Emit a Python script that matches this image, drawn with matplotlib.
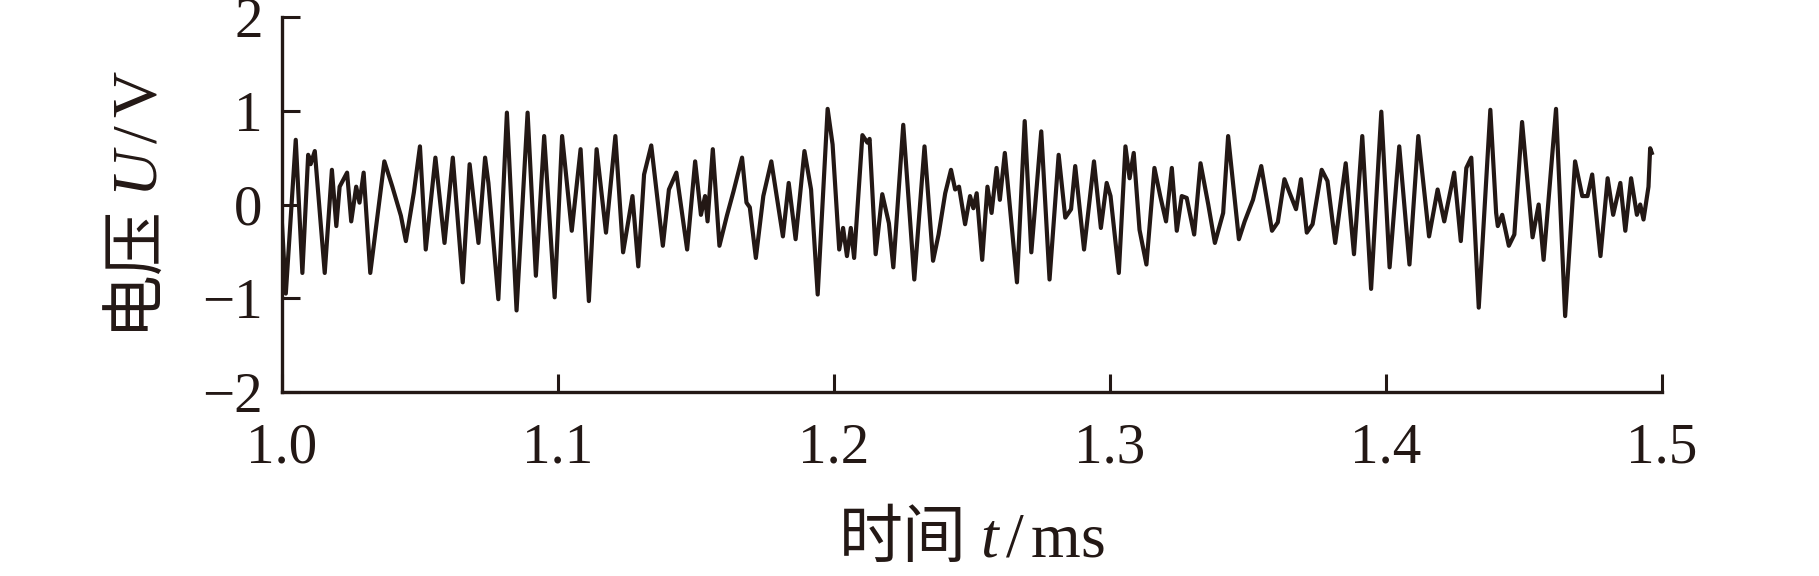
import matplotlib
matplotlib.use("Agg")
import matplotlib.pyplot as plt
import numpy as np

plt.rcParams['font.family'] = ['Liberation Serif', 'Noto Sans CJK SC']
plt.rcParams['mathtext.fontset'] = 'custom'
plt.rcParams['mathtext.it'] = 'Liberation Serif:italic'
plt.rcParams['mathtext.rm'] = 'Liberation Serif'

# 时间 (ms) 与电压 (V)，按图读取的极值点
t_ms = [1.0000, 1.0014, 1.0050, 1.0074, 1.0095, 1.0104, 1.0119, 1.0155, 1.0181, 1.0197,
        1.0209, 1.0236, 1.0251, 1.0269, 1.0281, 1.0296, 1.0320, 1.0371, 1.0400, 1.0431,
        1.0449, 1.0478, 1.0500, 1.0521, 1.0556, 1.0589, 1.0619, 1.0655, 1.0680, 1.0712,
        1.0736, 1.0748, 1.0784, 1.0815, 1.0850, 1.0890, 1.0920, 1.0950, 1.0988, 1.1015,
        1.1050, 1.1082, 1.1112, 1.1140, 1.1174, 1.1208, 1.1236, 1.1270, 1.1291, 1.1312,
        1.1338, 1.1380, 1.1402, 1.1429, 1.1468, 1.1497, 1.1518, 1.1533, 1.1542, 1.1561,
        1.1585, 1.1612, 1.1636, 1.1667, 1.1683, 1.1695, 1.1717, 1.1744, 1.1773, 1.1815,
        1.1836, 1.1861, 1.1893, 1.1917, 1.1941, 1.1977, 1.1995, 1.2019, 1.2033, 1.2047,
        1.2061, 1.2073, 1.2103, 1.2121, 1.2129, 1.2151, 1.2175, 1.2199, 1.2215, 1.2251,
        1.2291, 1.2328, 1.2359, 1.2379, 1.2403, 1.2424, 1.2439, 1.2453, 1.2475, 1.2493,
        1.2505, 1.2517, 1.2537, 1.2556, 1.2571, 1.2589, 1.2601, 1.2619, 1.2663, 1.2691,
        1.2715, 1.2751, 1.2781, 1.2814, 1.2838, 1.2859, 1.2874, 1.2906, 1.2942, 1.2967,
        1.2988, 1.3002, 1.3032, 1.3056, 1.3071, 1.3086, 1.3107, 1.3132, 1.3161, 1.3182,
        1.3203, 1.3224, 1.3242, 1.3260, 1.3278, 1.3305, 1.3328, 1.3356, 1.3380, 1.3410,
        1.3428, 1.3467, 1.3488, 1.3518, 1.3548, 1.3587, 1.3608, 1.3632, 1.3650, 1.3674,
        1.3692, 1.3713, 1.3734, 1.3767, 1.3788, 1.3816, 1.3854, 1.3884, 1.3914, 1.3946,
        1.3983, 1.4013, 1.4048, 1.4085, 1.4117, 1.4156, 1.4187, 1.4211, 1.4247, 1.4271,
        1.4291, 1.4309, 1.4336, 1.4378, 1.4399, 1.4405, 1.4421, 1.4445, 1.4465, 1.4493,
        1.4531, 1.4553, 1.4571, 1.4616, 1.4649, 1.4685, 1.4711, 1.4730, 1.4747, 1.4777,
        1.4803, 1.4823, 1.4849, 1.4867, 1.4888, 1.4909, 1.4921, 1.4933, 1.4951, 1.4957,
        1.4963]
u_v = [-0.20, -0.95, 0.69, -0.73, 0.53, 0.43, 0.57, -0.73, 0.37, -0.23,
       0.19, 0.34, -0.18, 0.19, 0.02, 0.34, -0.73, 0.46, 0.19, -0.12,
       -0.39, 0.13, 0.62, -0.48, 0.50, -0.41, 0.50, -0.83, 0.43, -0.41,
       0.50, 0.23, -1.01, 0.98, -1.13, 0.98, -0.76, 0.73, -0.99, 0.73,
       -0.28, 0.59, -1.03, 0.59, -0.30, 0.73, -0.51, 0.09, -0.66, 0.32,
       0.63, -0.44, 0.16, 0.34, -0.48, 0.46, -0.11, 0.09, -0.18, 0.59,
       -0.44, -0.12, 0.14, 0.50, 0.02, -0.03, -0.57, 0.09, 0.46, -0.34,
       0.23, -0.37, 0.57, 0.16, -0.96, 1.02, 0.64, -0.48, -0.25, -0.55,
       -0.25, -0.57, 0.74, 0.66, 0.70, -0.53, 0.11, -0.20, -0.67, 0.85,
       -0.80, 0.62, -0.60, -0.32, 0.12, 0.37, 0.16, 0.19, -0.21, 0.09,
       -0.04, 0.12, -0.59, 0.19, -0.09, 0.39, 0.05, 0.55, -0.83, 0.89,
       -0.51, 0.78, -0.80, 0.53, -0.14, -0.05, 0.41, -0.48, 0.46, -0.25,
       0.23, 0.09, -0.73, 0.62, 0.28, 0.55, -0.27, -0.64, 0.39, 0.09,
       -0.18, 0.39, -0.28, 0.09, 0.07, -0.32, 0.44, 0.00, -0.41, -0.09,
       0.73, -0.37, -0.18, 0.05, 0.41, -0.28, -0.19, 0.27, 0.13, -0.05,
       0.27, -0.30, -0.21, 0.37, 0.25, -0.41, 0.44, -0.53, 0.73, -0.90,
       0.99, -0.67, 0.62, -0.64, 0.73, -0.34, 0.16, -0.18, 0.34, -0.39,
       0.39, 0.50, -1.10, 1.01, -0.09, -0.23, -0.11, -0.44, -0.32, 0.88,
       -0.35, 0.00, -0.59, 1.02, -1.19, 0.46, 0.09, 0.09, 0.32, -0.55,
       0.28, -0.11, 0.23, -0.28, 0.28, -0.11, 0.00, -0.16, 0.19, 0.60,
       0.55]

x_ticks = [1.0, 1.1, 1.2, 1.3, 1.4, 1.5]
y_ticks = [-2, -1, 0, 1, 2]

line_color = '#231815'

fig = plt.figure(figsize=(18.19, 5.76), dpi=100)
ax = fig.add_axes([0.155, 0.3194, 0.7587, 0.6511])

ax.plot(t_ms, u_v, color=line_color, linewidth=3.0, solid_joinstyle='round')

ax.set_xlim(1.0, 1.5)
ax.set_ylim(-2, 2)
ax.set_xticks(x_ticks)
ax.set_xticklabels([f"{v:.1f}" for v in x_ticks])
ax.set_yticks(y_ticks)

# 只保留左、下边框
ax.spines['top'].set_visible(False)
ax.spines['right'].set_visible(False)
for s in ['left', 'bottom']:
    ax.spines[s].set_linewidth(2.4)
    ax.spines[s].set_color(line_color)

ax.tick_params(axis='both', direction='in', length=13, width=2.2,
               color=line_color, labelsize=41, labelcolor=line_color)
ax.tick_params(axis='x', pad=22)
ax.tick_params(axis='y', pad=14)

# 中文用 Noto Sans CJK，数学部分用 Liberation Serif
ax.set_xlabel(r'时间 $t\,/\,\mathrm{ms}$', fontsize=46, color=line_color,
              labelpad=22, fontfamily='Noto Sans CJK SC')
ax.set_ylabel(r'电压 $U\,/\,\mathrm{V}$', fontsize=46, color=line_color,
              labelpad=22, fontfamily='Noto Sans CJK SC')

plt.savefig('out.png', dpi=100)
